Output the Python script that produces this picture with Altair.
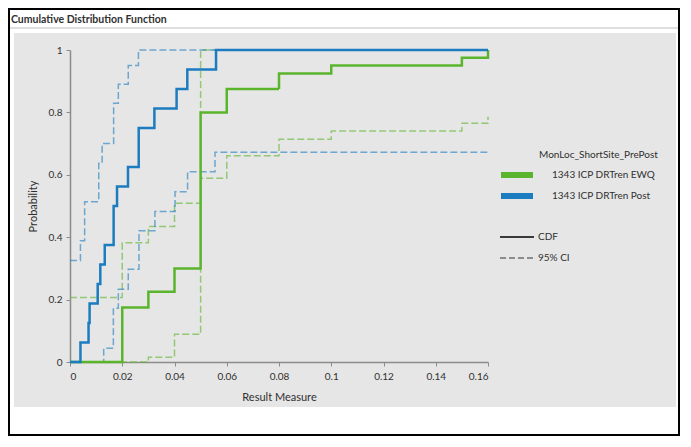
import altair as alt
import pandas as pd

# ---------------- text ----------------
chart_title = "Cumulative Distribution Function"
x_title = "Result Measure"
y_title = "Probability"
legend_title = "MonLoc_ShortSite_PrePost"
series_names = ["1343 ICP DRTren EWQ", "1343 ICP DRTren Post"]
line_types = ["CDF", "95% CI"]

x_ticks = [0, 0.02, 0.04, 0.06, 0.08, 0.1, 0.12, 0.14, 0.16]
y_ticks = [0, 0.2, 0.4, 0.6, 0.8, 1]

# ---------------- data (step positions) ----------------
ewq_cdf_x = [0, 0.02, 0.03, 0.04, 0.05, 0.06, 0.08, 0.10, 0.15, 0.16]
ewq_cdf_y = [0, 0.175, 0.225, 0.3, 0.8, 0.875, 0.925, 0.95, 0.975, 1.0]
ewq_lo_x = [0, 0.03, 0.04, 0.05, 0.06, 0.08, 0.10, 0.15, 0.16]
ewq_lo_y = [0, 0.015, 0.089, 0.589, 0.661, 0.714, 0.740, 0.765, 0.786]
ewq_hi_x = [0, 0.02, 0.03, 0.04, 0.05, 0.16]
ewq_hi_y = [0.207, 0.382, 0.434, 0.509, 1.0, 1.0]

post_cdf_x = [0, 0.004, 0.0071, 0.0075, 0.0106, 0.0116, 0.0133, 0.0167, 0.018,
              0.0222, 0.0263, 0.0323, 0.0408, 0.0449, 0.0559, 0.16]
post_cdf_y = [0, 0.0625, 0.125, 0.1875, 0.25, 0.3125, 0.375, 0.5, 0.5625,
              0.625, 0.75, 0.8125, 0.875, 0.9375, 1.0, 1.0]
post_hi_x = [0, 0.004, 0.0056, 0.011, 0.0123, 0.0167, 0.0185, 0.0223, 0.0262, 0.16]
post_hi_y = [0.325, 0.389, 0.514, 0.637, 0.70, 0.829, 0.89, 0.95, 1.0, 1.0]
post_lo_x = [0, 0.0129, 0.0166, 0.0185, 0.0223, 0.0264, 0.0325, 0.0402, 0.0450, 0.0555, 0.16]
post_lo_y = [0, 0.044, 0.172, 0.233, 0.297, 0.421, 0.482, 0.546, 0.61, 0.672, 0.672]

# ---------------- styles ----------------
FONT = "Lato"
series_colors = ["#5BB52C", "#1C7CC0"]
PANEL = "#E6E6E6"
AXIS_GRAY = "#8C8C8C"
TEXT = "#303030"

rows = []


def add(series, kind, trace, xs, ys):
    for i, (xv, yv) in enumerate(zip(xs, ys)):
        rows.append({"series": series, "kind": kind, "trace": trace,
                     "x": xv, "p": yv, "i": i})


add(series_names[0], line_types[1], "ewq_lo", ewq_lo_x, ewq_lo_y)
add(series_names[0], line_types[1], "ewq_hi", ewq_hi_x, ewq_hi_y)
add(series_names[1], line_types[1], "post_lo", post_lo_x, post_lo_y)
add(series_names[1], line_types[1], "post_hi", post_hi_x, post_hi_y)
add(series_names[0], line_types[0], "ewq_cdf", ewq_cdf_x, ewq_cdf_y)
add(series_names[1], line_types[0], "post_cdf", post_cdf_x, post_cdf_y)
df = pd.DataFrame(rows)

W, H = 418, 312
PAD_L, PAD_T, PAD_R, PAD_B = 62, 42, 192, 74

x_enc = alt.X("x:Q", scale=alt.Scale(domain=[0, 0.16], nice=False, zero=False),
              axis=alt.Axis(values=x_ticks, format="~g", title=x_title,
                            labelPadding=5, titlePadding=10))
y_enc = alt.Y("p:Q", scale=alt.Scale(domain=[0, 1], nice=False),
              axis=alt.Axis(values=y_ticks, format="~g", title=y_title,
                            labelPadding=4, titlePadding=10))
color_enc = alt.Color("series:N", scale=alt.Scale(domain=series_names, range=series_colors),
                      legend=None)


def step_layer(kind, dash, width, opacity):
    return alt.Chart(df).transform_filter(
        alt.datum.kind == kind
    ).mark_line(interpolate="step-after", strokeDash=dash, strokeWidth=width,
                opacity=opacity).encode(
        x=x_enc, y=y_enc, color=color_enc, detail="trace:N", order="i:Q"
    )


ci_layer = step_layer(line_types[1], [7, 3], 1.5, 0.6)
cdf_layer = step_layer(line_types[0], [1, 0], 2.5, 1.0)

one = pd.DataFrame({"k": [0]})


def box(x1, x2, y1, y2, **kw):
    return alt.Chart(one).mark_rect(**kw).encode(
        x=alt.value(x1), x2=alt.value(x2), y=alt.value(y1), y2=alt.value(y2))


def label(txt, x, y, size=10, weight="normal", baseline="middle"):
    return alt.Chart(one).mark_text(align="left", baseline=baseline, font=FONT,
                                    fontSize=size, fontWeight=weight, color=TEXT).encode(
        x=alt.value(x), y=alt.value(y), text=alt.value(txt))


L, R = -PAD_L, W + PAD_R
T, B = -PAD_T, H + PAD_B

decor = [
    box(L, R, T, -17, color="white"),
    box(L, -56, T, B, color="white"),
    box(606, R, T, B, color="white"),
    box(L, R, 357, B, color="white"),
    alt.Chart(one).mark_rule(color="#D4D4D4", strokeWidth=1.5).encode(
        x=alt.value(L), x2=alt.value(R), y=alt.value(-22)),
    box(L + 1, R - 1, T + 1, B - 1, fillOpacity=0, stroke="black", strokeWidth=2),
    label(chart_title, -59, -27, size=10.5, weight="bold", baseline="alphabetic"),
]

legend = [
    label(legend_title, 469, 105, size=10),
    box(431, 463, 122, 128, color=series_colors[0]),
    label(series_names[0], 482, 125, size=10),
    box(431, 463, 143, 149, color=series_colors[1]),
    label(series_names[1], 482, 146, size=10),
    alt.Chart(one).mark_rule(color="black", strokeWidth=1.5).encode(
        x=alt.value(430), x2=alt.value(464), y=alt.value(187)),
    label(line_types[0], 468, 187, size=10),
    alt.Chart(one).mark_rule(color="#333333", strokeWidth=1.2, strokeDash=[6, 3]).encode(
        x=alt.value(430), x2=alt.value(464), y=alt.value(208)),
    label(line_types[1], 468, 208, size=10),
]

chart = alt.layer(ci_layer, cdf_layer, *decor, *legend).properties(
    width=W, height=H,
    background=PANEL,
    autosize=alt.AutoSizeParams(type="none"),
    padding={"left": PAD_L, "top": PAD_T, "right": PAD_R, "bottom": PAD_B},
).configure_view(
    stroke="transparent"
).configure_axis(
    grid=False, domainColor=AXIS_GRAY, domainWidth=1.5, tickColor=AXIS_GRAY,
    tickWidth=1, tickSize=4, labelFont=FONT, labelFontSize=10, labelColor=TEXT,
    titleFont=FONT, titleFontSize=11, titleFontWeight="normal", titleColor=TEXT,
    zindex=0
)

chart.save("out.html", embed_options={"renderer": "svg", "actions": False})
